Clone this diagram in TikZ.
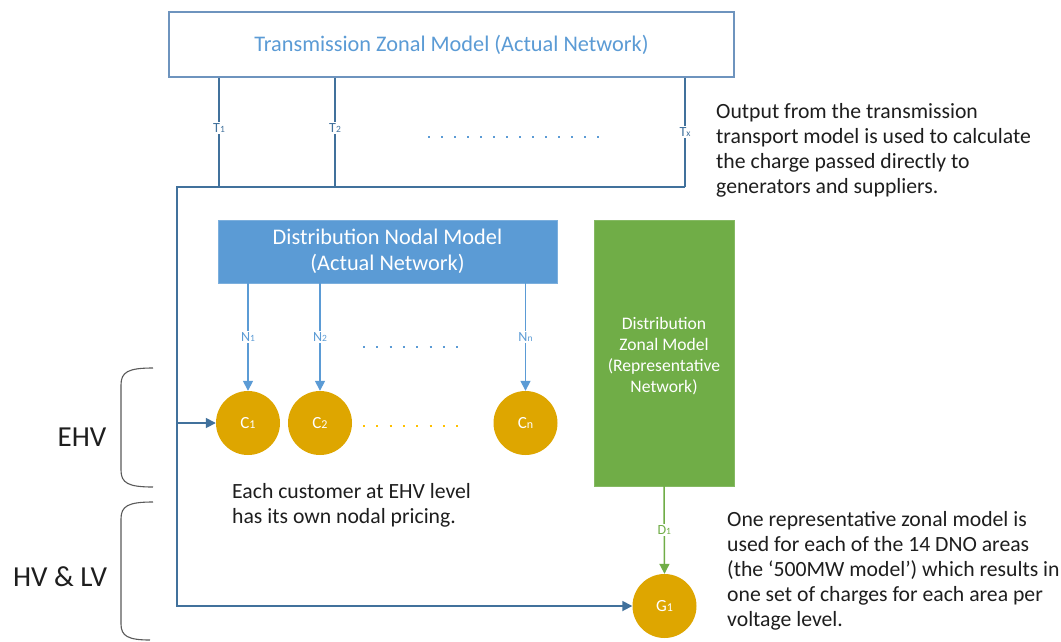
\documentclass[tikz,border=0pt]{standalone}
\usepackage{fontspec}
\setmainfont{Carlito}
\usetikzlibrary{arrows.meta}

\definecolor{busblue}{RGB}{65,113,156}
\definecolor{boxedge}{RGB}{110,148,190}
\definecolor{lightblue}{RGB}{91,155,213}
\definecolor{leafgreen}{RGB}{112,173,71}
\definecolor{gold}{RGB}{222,166,0}
\definecolor{dotyellow}{RGB}{255,192,0}
\definecolor{ink}{RGB}{30,30,30}
\definecolor{bracegray}{RGB}{90,90,90}

% small subscript digit used in the port labels
\newcommand{\lsub}[2][9.5]{{\fontsize{#1}{#1}\selectfont #2}}

\tikzset{
  bus/.style={draw=busblue, line width=1.7pt},
  busarrow/.style={bus, -{Triangle[length=10pt,width=10pt]}},
  narrow/.style={draw=lightblue, line width=1.5pt, -{Triangle[length=10pt,width=10pt]}},
  garrow/.style={draw=leafgreen, line width=1.5pt, -{Triangle[length=10pt,width=10pt]}},
  portlab/.style={fill=white, inner sep=1.5pt, font=\fontsize{14}{16}\selectfont},
  bubble/.style={circle, fill=gold, minimum size=64pt, inner sep=0pt,
                 text=white, font=\fontsize{17}{19}\selectfont},
  note/.style={anchor=north west, align=left, inner sep=0pt, text=ink,
               font=\fontsize{21.7}{25}\selectfont},
  level/.style={text=ink, font=\fontsize{29}{32}\selectfont},
  bracket/.style={draw=bracegray, line width=1.1pt},
}

\begin{document}
\begin{tikzpicture}[x=1pt,y=-1pt]
\useasboundingbox[fill=white] (0,0) rectangle (1061,641);

% transmission model
\node[draw=boxedge, line width=1.3pt, minimum width=565pt, minimum height=65pt,
      text=lightblue, font=\fontsize{22.3}{24}\selectfont] (tzm) at (451.5,44.5)
      {Transmission Zonal Model (Actual Network)};

% bus collecting the transmission outputs
\coordinate (b1) at (219,187);
\coordinate (b2) at (335,187);
\coordinate (bx) at (685,187);
\coordinate (corner) at (177,187);

\draw[bus] (tzm.south -| b1) -- node[portlab, text=busblue, pos=0.46] {T\lsub{1}} (b1);
\draw[bus] (tzm.south -| b2) -- node[portlab, text=busblue, pos=0.46] {T\lsub{2}} (b2);
\draw[bus] (tzm.south -| bx) -- node[portlab, text=busblue, pos=0.50] {T\lsub{x}} (bx);
\draw[draw=lightblue, line width=2pt, dash pattern=on 2pt off 11pt] (428,137) -- (600,137);

% distribution nodal model and customers
\node[fill=lightblue, draw=lightblue!80!white, minimum width=339pt, minimum height=63pt,
      text=white, align=center, font=\fontsize{22.3}{26}\selectfont] (dnm) at (387.5,251.5)
      {Distribution Nodal Model\\(Actual Network)};

\node[bubble] (c1) at (248,423) {C\lsub[12]{1}};
\node[bubble] (c2) at (320,423) {C\lsub[12]{2}};
\node[bubble] (cn) at (525.5,423) {C\lsub[12]{n}};

\draw[narrow] (dnm.south -| c1) -- node[portlab, text=lightblue, pos=0.5] {N\lsub{1}} (c1.north);
\draw[narrow] (dnm.south -| c2) -- node[portlab, text=lightblue, pos=0.5] {N\lsub{2}} (c2.north);
\draw[narrow] (dnm.south -| cn) -- node[portlab, text=lightblue, pos=0.5] {N\lsub{n}} (cn.north);
\draw[draw=lightblue, line width=2pt, dash pattern=on 2pt off 11.3pt] (363,347) -- (460,347);
\draw[draw=dotyellow, line width=2pt, dash pattern=on 2pt off 11.3pt] (363,426) -- (460,426);

% distribution zonal model and generator; extra head room pushes its text down a little
\node[fill=leafgreen, draw=leafgreen!85!white, minimum width=140pt, minimum height=266pt,
      text=white, font=\fontsize{17.6}{21}\selectfont] (dzm) at (664,353)
      {\raisebox{0pt}[\dimexpr\height+8pt\relax][\depth]{\begin{tabular}{@{}c@{}}Distribution\\Zonal Model\\(Representative\\Network)\end{tabular}}};
\node[bubble] (g1) at (664.5,606) {G\lsub[12]{1}};
\draw[garrow] (dzm.south) -- node[portlab, text=leafgreen, pos=0.5] {D\lsub{1}} (g1.north);

% feeds from the bus
\draw[busarrow] (bx) -- (corner) -- (corner |- g1) -- (g1.west);
\draw[busarrow] (corner |- c1) -- (c1.west);

% voltage level brackets
\draw[bracket] (153,368) .. controls (128,368) and (121,372) .. (121,385)
               -- (121,470) .. controls (121,483) and (128,487) .. (153,487);
\draw[bracket] (153,502) .. controls (128,502) and (121,506) .. (121,519)
               -- (121,624) .. controls (121,636) and (128,640) .. (150,640);
\node[level] (ehv) at (82,437) {EHV};
\node[level] (hvlv) at (60,577) {HV \& LV};

% explanatory notes
\node[note] (n1) at (716,103) {Output from the transmission\\transport model is used to calculate\\the charge passed directly to\\generators and suppliers.};
\node[note] (n2) at (232,483) {Each customer at EHV level\\has its own nodal pricing.};
\node[note] (n3) at (727,511) {One representative zonal model is\\used for each of the 14 DNO areas\\(the ‘500MW model’) which results in\\one set of charges for each area per\\voltage level.};
\end{tikzpicture}
\end{document}
